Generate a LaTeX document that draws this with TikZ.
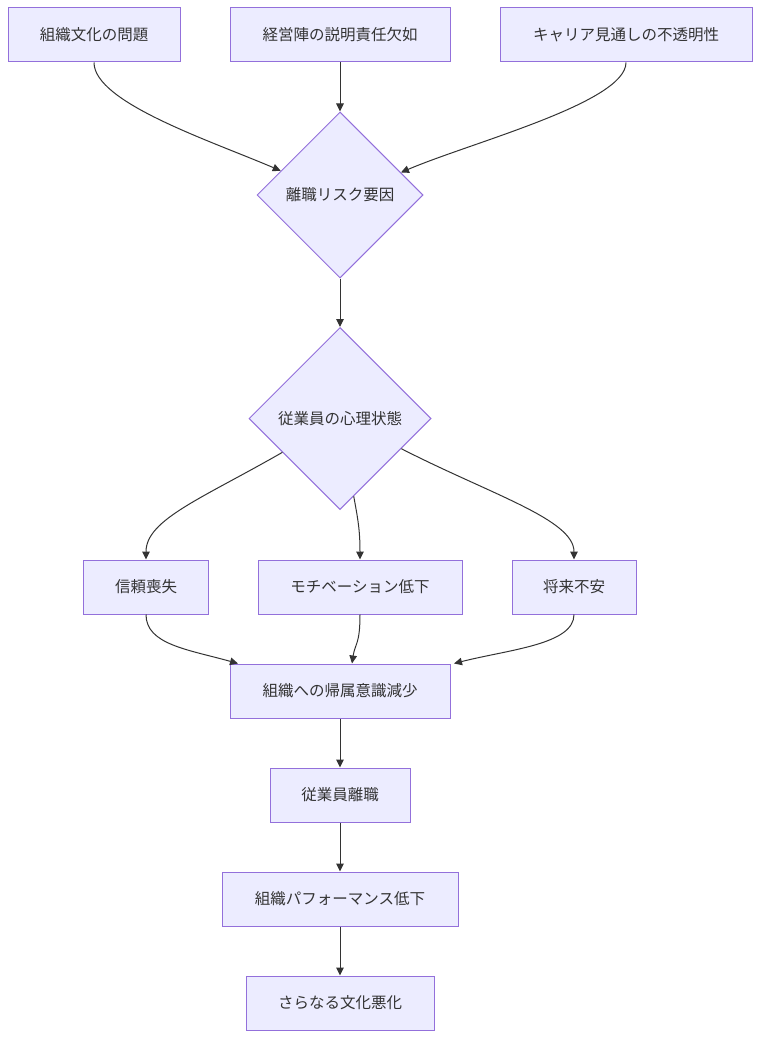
\documentclass[tikz,border=0pt]{standalone}
\usepackage{fontspec}
\setmainfont{Noto Sans CJK JP}
\usetikzlibrary{shapes.geometric,arrows.meta,calc}
\definecolor{nodefill}{HTML}{ECECFF}
\definecolor{nodeline}{HTML}{9370DB}
\definecolor{txt}{HTML}{333333}
\tikzset{
  base/.style={draw=nodeline,fill=nodefill,line width=1pt,text=txt,inner sep=0pt,
    font=\fontsize{15.5}{18}\selectfont},
  boxnode/.style={base,rectangle,minimum height=54pt},
  decision/.style={base,diamond,aspect=1},
  conn/.style={draw=txt,line width=1pt,-{Triangle[length=8pt,width=7.5pt]}}
}
\begin{document}
\begin{tikzpicture}[x=1pt,y=-1pt]
\useasboundingbox (0,0) rectangle (760,1038);
\node[boxnode,minimum width=172pt] (A) at (94,35) {組織文化の問題};
\node[boxnode,minimum width=220pt] (B) at (340,35) {経営陣の説明責任欠如};
\node[boxnode,minimum width=252pt] (C) at (626,35) {キャリア見通しの不透明性};
\node[decision,minimum width=166pt,minimum height=166pt] (D) at (340,195) {離職リスク要因};
\node[decision,minimum width=182pt,minimum height=182pt] (E) at (340,418.5) {従業員の心理状態};
\node[boxnode,minimum width=125pt] (F) at (146,587) {信頼喪失};
\node[boxnode,minimum width=204pt] (G) at (360,587) {モチベーション低下};
\node[boxnode,minimum width=124pt] (H) at (574,587) {将来不安};
\node[boxnode,minimum width=220pt] (I) at (340,691) {組織への帰属意識減少};
\node[boxnode,minimum width=140pt] (J) at (340,795) {従業員離職};
\node[boxnode,minimum width=236pt] (K) at (340,899) {組織パフォーマンス低下};
\node[boxnode,minimum width=188pt] (L) at (340,1003) {さらなる文化悪化};

\coordinate (DinL) at ($(D.north)!0.71!(D.west)$);
\coordinate (DinR) at ($(D.north)!0.73!(D.east)$);
\coordinate (EoutF) at ($(E.west)!0.37!(E.south)$);
\coordinate (EoutG) at ($(E.south)!0.15!(E.east)$);
\coordinate (EoutH) at ($(E.south)!0.67!(E.east)$);
\coordinate (IinF) at ($(I.north)+(-102,0)$);
\coordinate (IinG) at ($(I.north)+(12,0)$);
\coordinate (IinH) at ($(I.north)+(114,0)$);

\draw[conn] (A.south) .. controls +(0,40) and +(-70,-30) .. (DinL);
\draw[conn] (B.south) -- (D.north);
\draw[conn] (C.south) .. controls +(0,40) and +(70,-30) .. (DinR);
\draw[conn] (D.south) -- (E.north);
\draw[conn] (EoutF) .. controls +(-80,46) and +(0,-40) .. (F.north);
\draw[conn] (EoutG) .. controls +(4,22) and +(0,-30) .. (G.north);
\draw[conn] (EoutH) .. controls +(90,46) and +(0,-40) .. (H.north);
\draw[conn] (F.south) .. controls +(0,30) and +(-50,-14) .. (IinF);
\draw[conn] (G.south) .. controls +(0,30) and +(3,-20) .. (IinG);
\draw[conn] (H.south) .. controls +(0,30) and +(55,-14) .. (IinH);
\draw[conn] (I.south) -- (J.north);
\draw[conn] (J.south) -- (K.north);
\draw[conn] (K.south) -- (L.north);
\end{tikzpicture}
\end{document}
